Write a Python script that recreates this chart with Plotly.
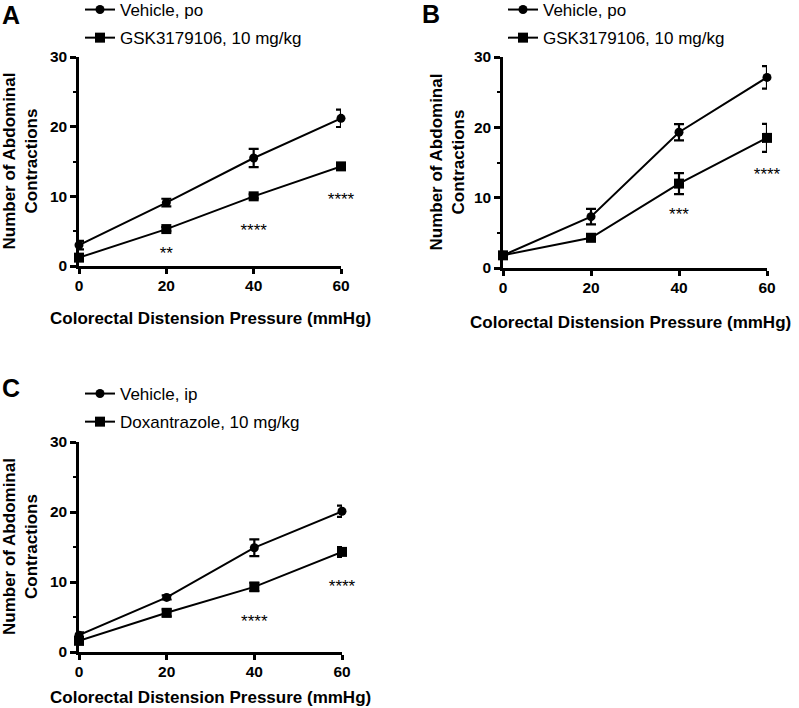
import plotly.graph_objects as go

# colorectal distension pressure (mmHg)
pressure = [0, 20, 40, 60]

# panel A
a_vehicle = [3.0, 9.1, 15.5, 21.2]
a_vehicle_err = [0.6, 0.55, 1.3, 1.25]
a_gsk = [1.2, 5.3, 10.0, 14.3]
a_gsk_err = [0.3, 0.3, 0.3, 0.3]
a_stars = ["", "**", "****", "****"]
a_star_y = [None, 1.6, 4.9, 9.3]

# panel B
b_vehicle = [1.8, 7.3, 19.3, 27.1]
b_vehicle_err = [0.3, 1.1, 1.15, 1.6]
b_gsk = [1.8, 4.3, 12.0, 18.5]
b_gsk_err = [0.3, 0.5, 1.5, 2.0]
b_stars = ["", "", "***", "****"]
b_star_y = [None, None, 7.5, 13.1]

# panel C
c_vehicle = [2.4, 7.8, 14.9, 20.1]
c_vehicle_err = [0.4, 0.3, 1.2, 0.8]
c_dox = [1.6, 5.6, 9.3, 14.3]
c_dox_err = [0.5, 0.5, 0.6, 0.7]
c_stars = ["", "", "****", "****"]
c_star_y = [None, None, 4.25, 9.15]

W, H = 799, 708
FONT = "Liberation Sans"


def px_x(p):
    return p / W


def px_y(p):
    return 1 - p / H


panels = [
    dict(ax="", leg="legend", names=["Vehicle, po", "GSK3179106, 10 mg/kg"],
         veh=a_vehicle, veh_err=a_vehicle_err, trt=a_gsk, trt_err=a_gsk_err,
         stars=a_stars, star_y=a_star_y,
         xd=[px_x(79), px_x(341)], yd=[px_y(266), px_y(57)],
         letter="A", letter_xy=(11, 15), ytitle_x=20, leg_xy=(80, -8),
         xtitle_xy=(211, 318)),
    dict(ax="2", leg="legend2", names=["Vehicle, po", "GSK3179106, 10 mg/kg"],
         veh=b_vehicle, veh_err=b_vehicle_err, trt=b_gsk, trt_err=b_gsk_err,
         stars=b_stars, star_y=b_star_y,
         xd=[px_x(503), px_x(767)], yd=[px_y(268), px_y(57)],
         letter="B", letter_xy=(431, 14), ytitle_x=447, leg_xy=(503, -8),
         xtitle_xy=(630, 322)),
    dict(ax="3", leg="legend3", names=["Vehicle, ip", "Doxantrazole, 10 mg/kg"],
         veh=c_vehicle, veh_err=c_vehicle_err, trt=c_dox, trt_err=c_dox_err,
         stars=c_stars, star_y=c_star_y,
         xd=[px_x(79), px_x(342)], yd=[px_y(652), px_y(442)],
         letter="C", letter_xy=(11, 388), ytitle_x=20, leg_xy=(80, 376),
         xtitle_xy=(211, 697)),
]

fig = go.Figure()
annotations = []
layout = {}

for i, p in enumerate(panels):
    xa = "x" + p["ax"]
    ya = "y" + p["ax"]
    err_style = dict(type="data", color="black", thickness=2.2, width=5)
    fig.add_trace(go.Scatter(
        x=pressure, y=p["veh"], xaxis=xa, yaxis=ya, name=p["names"][0],
        mode="lines+markers", legend=p["leg"], legendgroup=f"{i}v",
        line=dict(color="black", width=2),
        marker=dict(symbol="circle", size=9, color="black"),
        error_y=dict(array=p["veh_err"], **err_style), cliponaxis=False))
    fig.add_trace(go.Scatter(
        x=pressure, y=p["trt"], xaxis=xa, yaxis=ya, name=p["names"][1],
        mode="lines+markers", legend=p["leg"], legendgroup=f"{i}t",
        line=dict(color="black", width=2),
        marker=dict(symbol="square", size=10, color="black"),
        error_y=dict(array=p["trt_err"], **err_style), cliponaxis=False))
    # significance stars
    sx = [x for x, s in zip(pressure, p["stars"]) if s]
    sy = [y for y, s in zip(p["star_y"], p["stars"]) if s]
    st = [s for s in p["stars"] if s]
    fig.add_trace(go.Scatter(
        x=sx, y=sy, xaxis=xa, yaxis=ya, mode="text", text=st, showlegend=False,
        textfont=dict(family=FONT, size=17, color="black"), cliponaxis=False))

    layout["xaxis" + p["ax"]] = dict(
        domain=p["xd"], anchor=ya, range=[0, 60], tickvals=pressure,
        showline=True, linecolor="black", linewidth=2.5, ticks="outside",
        ticklen=5, tickwidth=2.5, tickcolor="black", showgrid=False, zeroline=False,
        automargin=False, ticklabelstandoff=-1,
        tickfont=dict(family=FONT, size=15.5, color="black", weight="bold"))
    layout["yaxis" + p["ax"]] = dict(
        domain=p["yd"], anchor=xa, range=[0, 30], tickvals=[0, 10, 20, 30],
        showline=True, linecolor="black", linewidth=2.5, ticks="outside",
        ticklen=6, tickwidth=2.5, tickcolor="black", showgrid=False, zeroline=False,
        automargin=False,
        minor=dict(dtick=5, ticks="outside", ticklen=3, tickwidth=2, tickcolor="black"),
        tickfont=dict(family=FONT, size=15.5, color="black", weight="bold"))
    layout[p["leg"]] = dict(
        x=px_x(p["leg_xy"][0]), y=px_y(p["leg_xy"][1]), xanchor="left", yanchor="top",
        bgcolor="rgba(0,0,0,0)", tracegroupgap=3,
        font=dict(family=FONT, size=17, color="black"))

    annotations.append(dict(
        text=p["letter"], x=px_x(p["letter_xy"][0]), y=px_y(p["letter_xy"][1]),
        xref="paper", yref="paper", showarrow=False, xanchor="center", yanchor="middle",
        font=dict(family=FONT, size=25, color="black", weight="bold")))
    annotations.append(dict(
        text="Number of Abdominal<br>Contractions", textangle=-90,
        x=px_x(p["ytitle_x"]), y=(p["yd"][0] + p["yd"][1]) / 2,
        xref="paper", yref="paper", showarrow=False, xanchor="center", yanchor="middle",
        font=dict(family=FONT, size=17, color="black", weight="bold")))
    annotations.append(dict(
        text="Colorectal Distension Pressure (mmHg)",
        x=px_x(p["xtitle_xy"][0]), y=px_y(p["xtitle_xy"][1]),
        xref="paper", yref="paper", showarrow=False, xanchor="center", yanchor="middle",
        font=dict(family=FONT, size=17, color="black", weight="bold")))

fig.update_layout(
    width=W, height=H, margin=dict(l=0, r=0, t=0, b=0, autoexpand=False),
    plot_bgcolor="white", paper_bgcolor="white",
    font=dict(family=FONT, color="black"),
    annotations=annotations, **layout)

# drop the page's default body margin so the figure sits at the window corner
fig.write_html("out.html", config={"displayModeBar": False},
               post_script="document.body.style.margin = '0';")
